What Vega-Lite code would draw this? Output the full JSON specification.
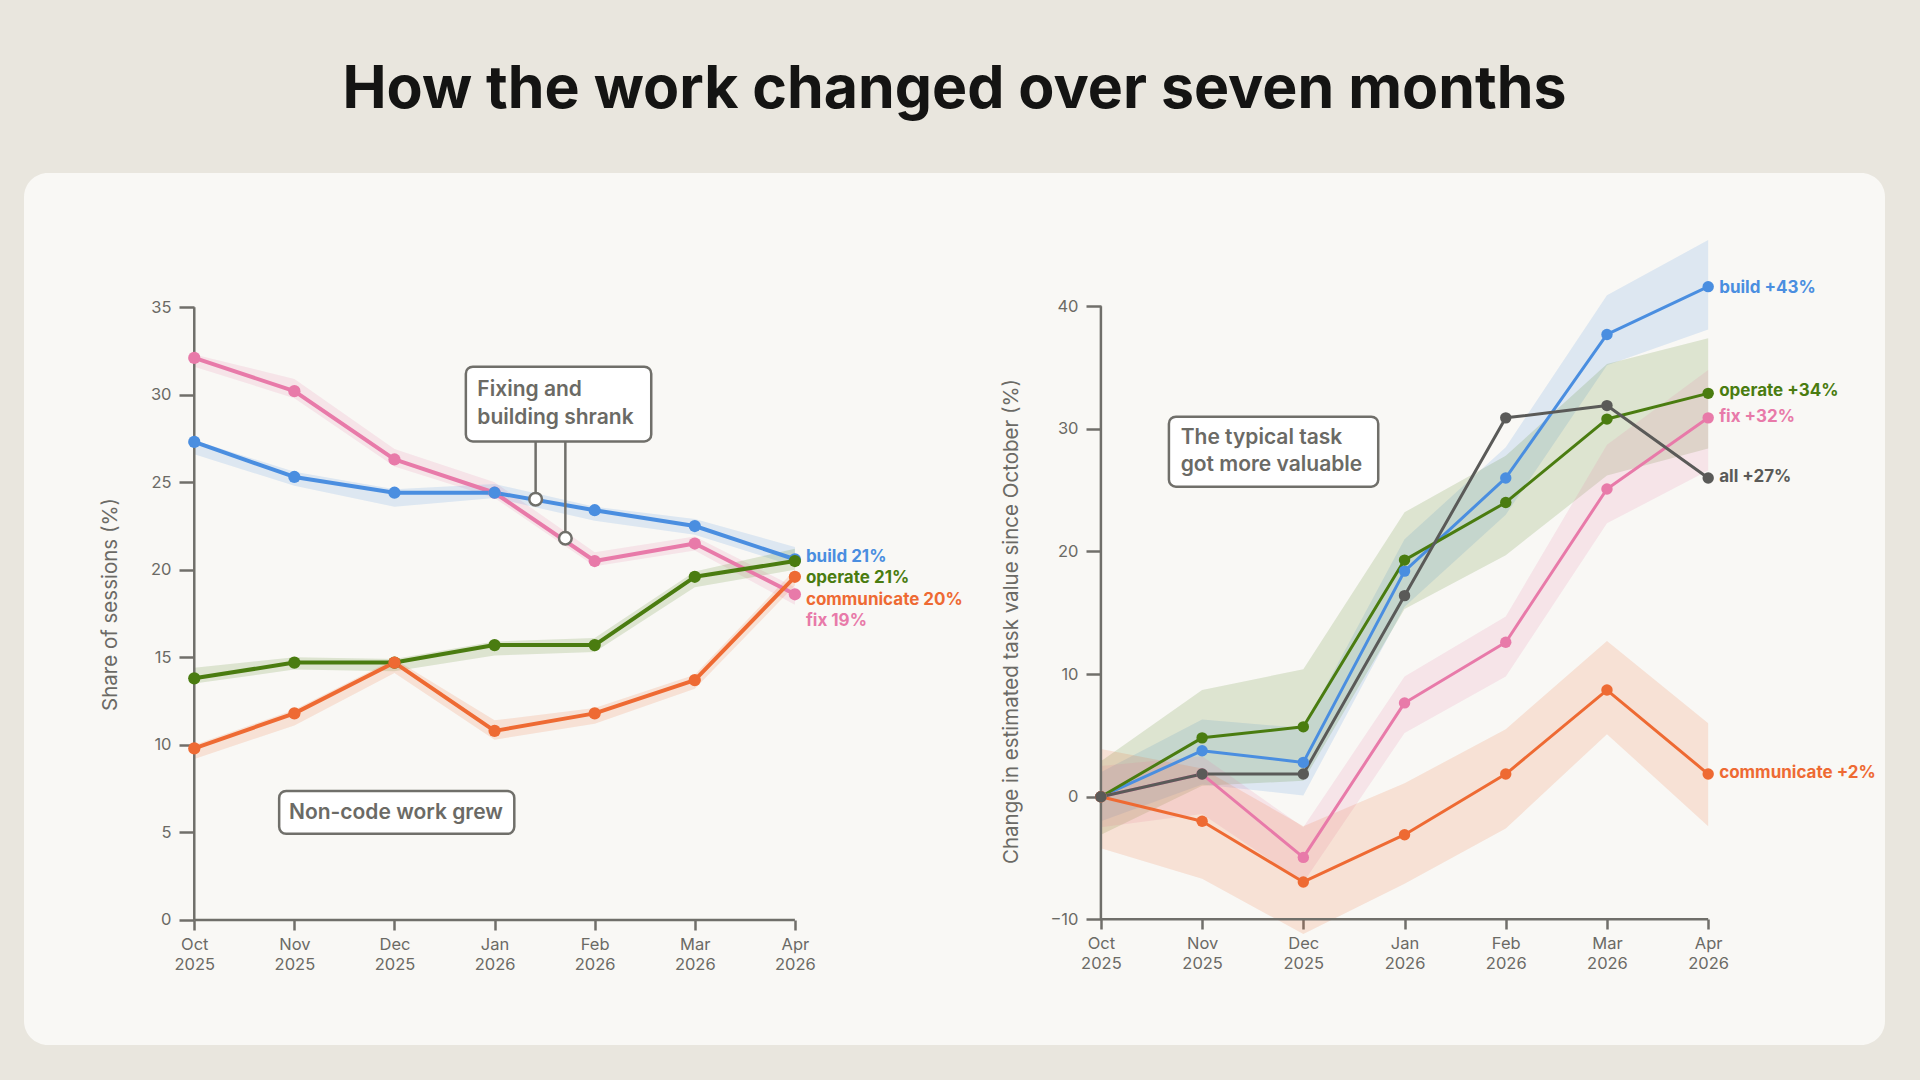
{
  "$schema": "https://vega.github.io/schema/vega-lite/v6.json",
  "width": 1861,
  "height": 872,
  "autosize": {"type": "none"},
  "padding": {"left": 24, "top": 173, "right": 35, "bottom": 35},
  "background": "#e9e6de",
  "title": {
    "text": "How the work changed over seven months",
    "anchor": "middle",
    "frame": "group",
    "baseline": "alphabetic",
    "offset": 6,
    "font": "Inter",
    "fontSize": 59,
    "fontWeight": 700,
    "color": "#141413"
  },
  "config": {
    "font": "Inter",
    "view": {"fill": "#f9f8f5", "stroke": null, "cornerRadius": 24},
    "axis": {
      "labelFont": "Inter",
      "labelFontSize": 16.5,
      "labelColor": "#6b6a65",
      "tickColor": "#706f6a",
      "tickWidth": 2.5,
      "titleFont": "Inter",
      "titleFontSize": 20.5,
      "titleFontWeight": "normal",
      "titleColor": "#6b6a65",
      "grid": false,
      "domain": false
    }
  },
  "datasets": {
    "share": [
      {"series": "fix", "m": 0, "v": 32.1, "lo": 31.6, "hi": 32.3},
      {"series": "fix", "m": 1, "v": 30.2, "lo": 29.8, "hi": 30.9},
      {"series": "fix", "m": 2, "v": 26.3, "lo": 25.9, "hi": 26.9},
      {"series": "fix", "m": 3, "v": 24.4, "lo": 24.1, "hi": 25.0},
      {"series": "fix", "m": 4, "v": 20.5, "lo": 20.2, "hi": 21.0},
      {"series": "fix", "m": 5, "v": 21.5, "lo": 21.1, "hi": 21.9},
      {"series": "fix", "m": 6, "v": 18.6, "lo": 18.0, "hi": 19.0},
      {"series": "build", "m": 0, "v": 27.3, "lo": 26.6, "hi": 27.4},
      {"series": "build", "m": 1, "v": 25.3, "lo": 24.8, "hi": 25.6},
      {"series": "build", "m": 2, "v": 24.4, "lo": 23.6, "hi": 24.6},
      {"series": "build", "m": 3, "v": 24.4, "lo": 24.1, "hi": 24.9},
      {"series": "build", "m": 4, "v": 23.4, "lo": 22.8, "hi": 23.6},
      {"series": "build", "m": 5, "v": 22.5, "lo": 22.0, "hi": 22.9},
      {"series": "build", "m": 6, "v": 20.6, "lo": 20.2, "hi": 21.3},
      {"series": "operate", "m": 0, "v": 13.8, "lo": 13.5, "hi": 14.4},
      {"series": "operate", "m": 1, "v": 14.7, "lo": 14.3, "hi": 15.0},
      {"series": "operate", "m": 2, "v": 14.7, "lo": 14.2, "hi": 14.9},
      {"series": "operate", "m": 3, "v": 15.7, "lo": 15.1, "hi": 15.9},
      {"series": "operate", "m": 4, "v": 15.7, "lo": 15.3, "hi": 16.1},
      {"series": "operate", "m": 5, "v": 19.6, "lo": 19.0, "hi": 19.9},
      {"series": "operate", "m": 6, "v": 20.5, "lo": 20.0, "hi": 21.2},
      {"series": "communicate", "m": 0, "v": 9.8, "lo": 9.2, "hi": 10.0},
      {"series": "communicate", "m": 1, "v": 11.8, "lo": 11.1, "hi": 12.0},
      {"series": "communicate", "m": 2, "v": 14.7, "lo": 14.1, "hi": 14.9},
      {"series": "communicate", "m": 3, "v": 10.8, "lo": 10.3, "hi": 11.4},
      {"series": "communicate", "m": 4, "v": 11.8, "lo": 11.2, "hi": 12.1},
      {"series": "communicate", "m": 5, "v": 13.7, "lo": 13.2, "hi": 14.0},
      {"series": "communicate", "m": 6, "v": 19.6, "lo": 19.1, "hi": 20.0}
    ],
    "value": [
      {"series": "build", "m": 0, "v": 0, "lo": -2.0, "hi": 2.0},
      {"series": "build", "m": 1, "v": 3.75, "lo": 1.0, "hi": 6.3},
      {"series": "build", "m": 2, "v": 2.8, "lo": 0.1, "hi": 5.6},
      {"series": "build", "m": 3, "v": 18.4, "lo": 15.5, "hi": 21.0},
      {"series": "build", "m": 4, "v": 26.0, "lo": 23.0, "hi": 28.5},
      {"series": "build", "m": 5, "v": 37.7, "lo": 35.2, "hi": 40.9},
      {"series": "build", "m": 6, "v": 41.6, "lo": 38.1, "hi": 45.4},
      {"series": "operate", "m": 0, "v": 0, "lo": -3.1, "hi": 2.9},
      {"series": "operate", "m": 1, "v": 4.8, "lo": 0.9, "hi": 8.7},
      {"series": "operate", "m": 2, "v": 5.7, "lo": 1.3, "hi": 10.4},
      {"series": "operate", "m": 3, "v": 19.3, "lo": 15.3, "hi": 23.2},
      {"series": "operate", "m": 4, "v": 24.0, "lo": 19.7, "hi": 27.8},
      {"series": "operate", "m": 5, "v": 30.8, "lo": 26.2, "hi": 35.3},
      {"series": "operate", "m": 6, "v": 32.9, "lo": 28.4, "hi": 37.4},
      {"series": "fix", "m": 0, "v": 0, "lo": -2.5, "hi": 2.5},
      {"series": "fix", "m": 1, "v": 1.85, "lo": -1.4, "hi": 3.3},
      {"series": "fix", "m": 2, "v": -4.95, "lo": -7.0, "hi": -2.5},
      {"series": "fix", "m": 3, "v": 7.65, "lo": 5.2, "hi": 9.8},
      {"series": "fix", "m": 4, "v": 12.6, "lo": 9.8, "hi": 14.7},
      {"series": "fix", "m": 5, "v": 25.1, "lo": 22.3, "hi": 28.7},
      {"series": "fix", "m": 6, "v": 30.9, "lo": 26.6, "hi": 34.8},
      {"series": "communicate", "m": 0, "v": 0, "lo": -4.2, "hi": 3.9},
      {"series": "communicate", "m": 1, "v": -2.0, "lo": -6.7, "hi": 2.3},
      {"series": "communicate", "m": 2, "v": -6.95, "lo": -11.2, "hi": -2.4},
      {"series": "communicate", "m": 3, "v": -3.1, "lo": -7.1, "hi": 1.1},
      {"series": "communicate", "m": 4, "v": 1.85, "lo": -2.6, "hi": 5.5},
      {"series": "communicate", "m": 5, "v": 8.7, "lo": 5.1, "hi": 12.7},
      {"series": "communicate", "m": 6, "v": 1.85, "lo": -2.4, "hi": 6.0},
      {"series": "all", "m": 0, "v": 0},
      {"series": "all", "m": 1, "v": 1.85},
      {"series": "all", "m": 2, "v": 1.85},
      {"series": "all", "m": 3, "v": 16.4},
      {"series": "all", "m": 4, "v": 30.9},
      {"series": "all", "m": 5, "v": 31.9},
      {"series": "all", "m": 6, "v": 26.0}
    ]
  },
  "resolve": {
    "scale": {"x": "independent", "y": "independent"},
    "axis": {"x": "independent", "y": "independent"}
  },
  "layer": [
    {
      "data": {"name": "share"},
      "layer": [
        {
          "mark": {"type": "area", "opacity": 0.16},
          "encoding": {
            "x": {
              "field": "m", "type": "quantitative",
              "scale": {"domain": [-1.701, 16.89], "nice": false, "zero": false},
              "axis": {
                "orient": "bottom", "offset": -125, "values": [0, 1, 2, 3, 4, 5, 6],
                "labelExpr": "[['Oct','2025'],['Nov','2025'],['Dec','2025'],['Jan','2026'],['Feb','2026'],['Mar','2026'],['Apr','2026']][datum.value]",
                "title": null, "tickSize": 10, "labelPadding": 6, "labelLineHeight": 20,
                "labelFlush": false, "labelOverlap": false
              }
            },
            "y": {
              "field": "lo", "type": "quantitative",
              "scale": {"domain": [-7.14, 42.66], "nice": false, "zero": false},
              "axis": {
                "orient": "left", "offset": -170, "values": [0, 5, 10, 15, 20, 25, 30, 35],
                "title": "Share of sessions (%)", "titleX": -84, "titleY": 431,
                "titleAngle": -90, "titleAlign": "center", "titleBaseline": "middle",
                "tickSize": 15, "labelPadding": 8, "labelOverlap": false
              }
            },
            "y2": {"field": "hi"},
            "color": {
              "field": "series", "type": "nominal", "legend": null,
              "scale": {"domain": ["build", "operate", "communicate", "fix", "all"], "range": ["#4a8ee0", "#4a7c10", "#ee6a33", "#e87aa9", "#5a5a58"]}
            }
          }
        },
        {
          "data": {"values": [{}]},
          "mark": {"type": "rule", "color": "#706f6a", "strokeWidth": 2.5},
          "encoding": {
            "x": {"datum": 0, "type": "quantitative"},
            "y": {"datum": 0, "type": "quantitative"},
            "y2": {"datum": 35}
          }
        },
        {
          "data": {"values": [{}]},
          "mark": {"type": "rule", "color": "#706f6a", "strokeWidth": 2.5},
          "encoding": {
            "x": {"datum": 0, "type": "quantitative"},
            "x2": {"datum": 6},
            "y": {"datum": 0, "type": "quantitative"}
          }
        },
        {
          "mark": {"type": "line", "strokeWidth": 4, "strokeJoin": "round"},
          "encoding": {
            "x": {"field": "m", "type": "quantitative"},
            "y": {"field": "v", "type": "quantitative"},
            "color": {"field": "series", "type": "nominal", "legend": null}
          }
        },
        {
          "mark": {"type": "point", "filled": true, "size": 150, "opacity": 1},
          "encoding": {
            "x": {"field": "m", "type": "quantitative"},
            "y": {"field": "v", "type": "quantitative"},
            "color": {"field": "series", "type": "nominal", "legend": null}
          }
        },
        {
          "data": {"values": [{}]},
          "mark": {"type": "rect", "fill": "#ffffff", "stroke": "#706f6a", "strokeWidth": 2.5, "cornerRadius": 7},
          "encoding": {
            "x": {"datum": 2.713, "type": "quantitative"},
            "x2": {"datum": 4.565},
            "y": {"datum": 31.6, "type": "quantitative"},
            "y2": {"datum": 27.33}
          }
        },
        {
          "data": {"values": [{}]},
          "mark": {"type": "text", "text": ["Fixing and", "building shrank"], "align": "left", "baseline": "alphabetic", "lineHeight": 27.8, "fontSize": 21, "fontWeight": 600, "color": "#6b6a65"},
          "encoding": {
            "x": {"datum": 2.828, "type": "quantitative"},
            "y": {"datum": 29.91, "type": "quantitative"}
          }
        },
        {
          "data": {"values": [{}]},
          "mark": {"type": "rule", "color": "#706f6a", "strokeWidth": 2.5},
          "encoding": {
            "x": {"datum": 3.41, "type": "quantitative"},
            "y": {"datum": 27.33, "type": "quantitative"},
            "y2": {"datum": 24.03}
          }
        },
        {
          "data": {"values": [{}]},
          "mark": {"type": "rule", "color": "#706f6a", "strokeWidth": 2.5},
          "encoding": {
            "x": {"datum": 3.707, "type": "quantitative"},
            "y": {"datum": 27.33, "type": "quantitative"},
            "y2": {"datum": 21.8}
          }
        },
        {
          "data": {"values": [{}]},
          "mark": {"type": "point", "filled": true, "fill": "#ffffff", "stroke": "#706f6a", "strokeWidth": 2.5, "size": 160, "opacity": 1},
          "encoding": {
            "x": {"datum": 3.41, "type": "quantitative"},
            "y": {"datum": 24.03, "type": "quantitative"}
          }
        },
        {
          "data": {"values": [{}]},
          "mark": {"type": "point", "filled": true, "fill": "#ffffff", "stroke": "#706f6a", "strokeWidth": 2.5, "size": 160, "opacity": 1},
          "encoding": {
            "x": {"datum": 3.707, "type": "quantitative"},
            "y": {"datum": 21.8, "type": "quantitative"}
          }
        },
        {
          "data": {"values": [{}]},
          "mark": {"type": "rect", "fill": "#ffffff", "stroke": "#706f6a", "strokeWidth": 2.5, "cornerRadius": 7},
          "encoding": {
            "x": {"datum": 0.848, "type": "quantitative"},
            "x2": {"datum": 3.197},
            "y": {"datum": 7.37, "type": "quantitative"},
            "y2": {"datum": 4.92}
          }
        },
        {
          "data": {"values": [{}]},
          "mark": {"type": "text", "text": "Non-code work grew", "align": "left", "baseline": "middle", "fontSize": 21, "fontWeight": 600, "color": "#6b6a65"},
          "encoding": {
            "x": {"datum": 0.946, "type": "quantitative"},
            "y": {"datum": 6.11, "type": "quantitative"}
          }
        },
        {
          "data": {"values": [{}]},
          "mark": {"type": "text", "text": "build 21%", "align": "left", "baseline": "middle", "dx": 11, "fontSize": 17, "fontWeight": 700, "color": "#4a8ee0"},
          "encoding": {"x": {"datum": 6, "type": "quantitative"}, "y": {"datum": 20.72, "type": "quantitative"}}
        },
        {
          "data": {"values": [{}]},
          "mark": {"type": "text", "text": "operate 21%", "align": "left", "baseline": "middle", "dx": 11, "fontSize": 17, "fontWeight": 700, "color": "#4a7c10"},
          "encoding": {"x": {"datum": 6, "type": "quantitative"}, "y": {"datum": 19.53, "type": "quantitative"}}
        },
        {
          "data": {"values": [{}]},
          "mark": {"type": "text", "text": "communicate 20%", "align": "left", "baseline": "middle", "dx": 11, "fontSize": 17, "fontWeight": 700, "color": "#ee6a33"},
          "encoding": {"x": {"datum": 6, "type": "quantitative"}, "y": {"datum": 18.27, "type": "quantitative"}}
        },
        {
          "data": {"values": [{}]},
          "mark": {"type": "text", "text": "fix 19%", "align": "left", "baseline": "middle", "dx": 11, "fontSize": 17, "fontWeight": 700, "color": "#e87aa9"},
          "encoding": {"x": {"datum": 6, "type": "quantitative"}, "y": {"datum": 17.09, "type": "quantitative"}}
        }
      ]
    },
    {
      "data": {"name": "value"},
      "layer": [
        {
          "transform": [{"filter": "datum.series != 'all'"}],
          "mark": {"type": "area", "opacity": 0.16},
          "encoding": {
            "x": {
              "field": "m", "type": "quantitative",
              "scale": {"domain": [-10.64, 7.747], "nice": false, "zero": false},
              "axis": {
                "orient": "bottom", "offset": -126, "values": [0, 1, 2, 3, 4, 5, 6],
                "labelExpr": "[['Oct','2025'],['Nov','2025'],['Dec','2025'],['Jan','2026'],['Feb','2026'],['Mar','2026'],['Apr','2026']][datum.value]",
                "title": null, "tickSize": 10, "labelPadding": 6, "labelLineHeight": 20,
                "labelFlush": false, "labelOverlap": false
              }
            },
            "y": {
              "field": "lo", "type": "quantitative",
              "scale": {"domain": [-20.25, 50.87], "nice": false, "zero": false},
              "axis": {
                "orient": "left", "offset": -1077, "values": [-10, 0, 10, 20, 30, 40],
                "title": "Change in estimated task value since October (%)", "titleX": -90, "titleY": 448,
                "titleAngle": -90, "titleAlign": "center", "titleBaseline": "middle",
                "tickSize": 15, "labelPadding": 8, "labelOverlap": false
              }
            },
            "y2": {"field": "hi"},
            "color": {
              "field": "series", "type": "nominal", "legend": null,
              "scale": {"domain": ["build", "operate", "communicate", "fix", "all"], "range": ["#4a8ee0", "#4a7c10", "#ee6a33", "#e87aa9", "#5a5a58"]}
            }
          }
        },
        {
          "data": {"values": [{}]},
          "mark": {"type": "rule", "color": "#706f6a", "strokeWidth": 2.5},
          "encoding": {
            "x": {"datum": 0, "type": "quantitative"},
            "y": {"datum": -10, "type": "quantitative"},
            "y2": {"datum": 40}
          }
        },
        {
          "data": {"values": [{}]},
          "mark": {"type": "rule", "color": "#706f6a", "strokeWidth": 2.5},
          "encoding": {
            "x": {"datum": 0, "type": "quantitative"},
            "x2": {"datum": 6},
            "y": {"datum": -10, "type": "quantitative"}
          }
        },
        {
          "mark": {"type": "line", "strokeWidth": 3, "strokeJoin": "round"},
          "encoding": {
            "x": {"field": "m", "type": "quantitative"},
            "y": {"field": "v", "type": "quantitative"},
            "color": {"field": "series", "type": "nominal", "legend": null}
          }
        },
        {
          "mark": {"type": "point", "filled": true, "size": 130, "opacity": 1},
          "encoding": {
            "x": {"field": "m", "type": "quantitative"},
            "y": {"field": "v", "type": "quantitative"},
            "color": {"field": "series", "type": "nominal", "legend": null}
          }
        },
        {
          "data": {"values": [{}]},
          "mark": {"type": "rect", "fill": "#ffffff", "stroke": "#706f6a", "strokeWidth": 2.5, "cornerRadius": 7},
          "encoding": {
            "x": {"datum": 0.672, "type": "quantitative"},
            "x2": {"datum": 2.74},
            "y": {"datum": 31.0, "type": "quantitative"},
            "y2": {"datum": 25.29}
          }
        },
        {
          "data": {"values": [{}]},
          "mark": {"type": "text", "text": ["The typical task", "got more valuable"], "align": "left", "baseline": "alphabetic", "lineHeight": 26.4, "fontSize": 21, "fontWeight": 600, "color": "#6b6a65"},
          "encoding": {
            "x": {"datum": 0.788, "type": "quantitative"},
            "y": {"datum": 28.74, "type": "quantitative"}
          }
        },
        {
          "data": {"values": [{}]},
          "mark": {"type": "text", "text": "build +43%", "align": "left", "baseline": "middle", "dx": 11, "fontSize": 17, "fontWeight": 700, "color": "#4a8ee0"},
          "encoding": {"x": {"datum": 6, "type": "quantitative"}, "y": {"datum": 41.52, "type": "quantitative"}}
        },
        {
          "data": {"values": [{}]},
          "mark": {"type": "text", "text": "operate +34%", "align": "left", "baseline": "middle", "dx": 11, "fontSize": 17, "fontWeight": 700, "color": "#4a7c10"},
          "encoding": {"x": {"datum": 6, "type": "quantitative"}, "y": {"datum": 33.12, "type": "quantitative"}}
        },
        {
          "data": {"values": [{}]},
          "mark": {"type": "text", "text": "fix +32%", "align": "left", "baseline": "middle", "dx": 11, "fontSize": 17, "fontWeight": 700, "color": "#e87aa9"},
          "encoding": {"x": {"datum": 6, "type": "quantitative"}, "y": {"datum": 31.0, "type": "quantitative"}}
        },
        {
          "data": {"values": [{}]},
          "mark": {"type": "text", "text": "all +27%", "align": "left", "baseline": "middle", "dx": 11, "fontSize": 17, "fontWeight": 700, "color": "#5a5a58"},
          "encoding": {"x": {"datum": 6, "type": "quantitative"}, "y": {"datum": 26.1, "type": "quantitative"}}
        },
        {
          "data": {"values": [{}]},
          "mark": {"type": "text", "text": "communicate +2%", "align": "left", "baseline": "middle", "dx": 11, "fontSize": 17, "fontWeight": 700, "color": "#ee6a33"},
          "encoding": {"x": {"datum": 6, "type": "quantitative"}, "y": {"datum": 1.97, "type": "quantitative"}}
        }
      ]
    }
  ]
}
